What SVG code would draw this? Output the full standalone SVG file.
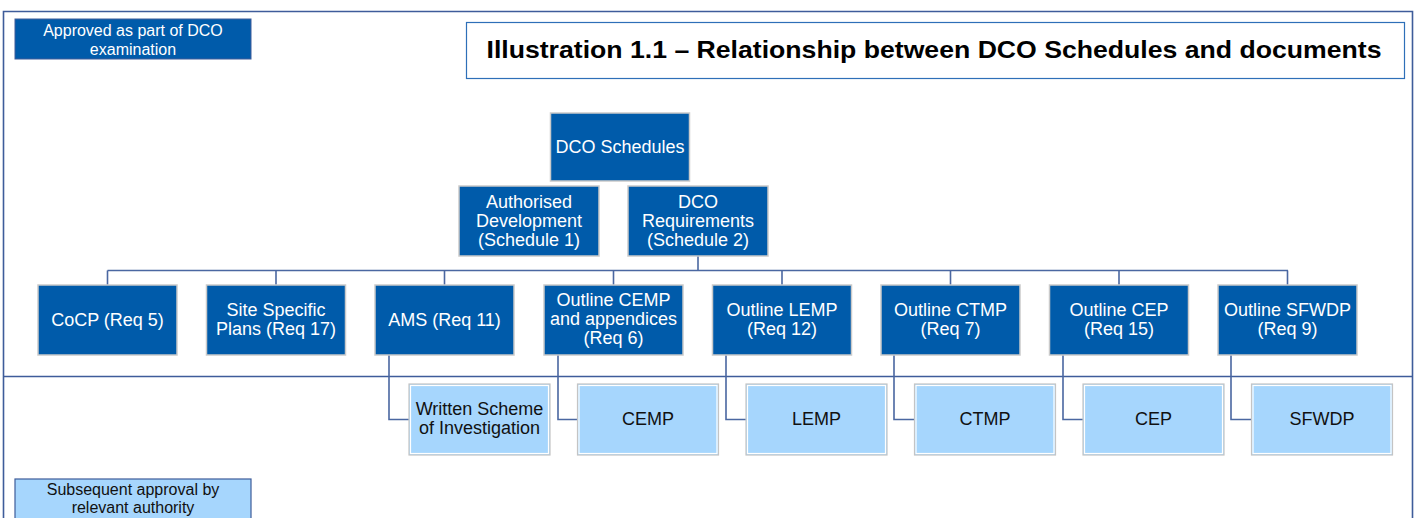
<svg xmlns="http://www.w3.org/2000/svg" width="1414" height="518" viewBox="0 0 1414 518">
<style>
  .dk{fill:#005BAA;stroke:#CACACA;stroke-width:1.5}
  .lt{fill:#A6D6FD;stroke:#C4C4C4;stroke-width:1.2}
  .ltin{fill:none;stroke:#FFFFFF;stroke-width:1.2}
  .tw{font-family:"Liberation Sans",Arial,sans-serif;font-size:18px;fill:#FFFFFF;text-anchor:middle}
  .tb{font-family:"Liberation Sans",Arial,sans-serif;font-size:18px;fill:#111111;text-anchor:middle}
  .lg{font-family:"Liberation Sans",Arial,sans-serif;font-size:16px;text-anchor:middle}
  .cn{fill:none;stroke:#4A67A1;stroke-width:1.6}
  .fr{fill:none;stroke:#3E5C9A;stroke-width:1.6}
</style>
<rect x="0" y="0" width="1414" height="518" fill="#FFFFFF"/>
<g id="frame">
  <polyline class="fr" points="3.5,518 3.5,11.5 1412.5,11.5 1412.5,518"/>
  <line class="fr" x1="3.5" y1="376.5" x2="1412.5" y2="376.5"/>
</g>
<g id="legend-approved">
  <rect x="15" y="19" width="236" height="40" fill="#005BAA" stroke="#3E5C9A" stroke-width="1"/>
  <text class="lg" x="133" y="36" fill="#FFFFFF">Approved as part of DCO</text>
  <text class="lg" x="133" y="55" fill="#FFFFFF">examination</text>
</g>
<g id="legend-subsequent">
  <rect x="15" y="479" width="236" height="45" fill="#A6D6FD" stroke="#3E5C9A" stroke-width="1.2"/>
  <text class="lg" x="133" y="495" fill="#111111">Subsequent approval by</text>
  <text class="lg" x="133" y="513" fill="#111111">relevant authority</text>
</g>
<g id="title">
  <rect x="466.5" y="22.5" width="938" height="56" fill="#FFFFFF" stroke="#2E6FB8" stroke-width="1.2"/>
  <text x="934" y="57.5" font-family="'Liberation Sans',Arial,sans-serif" font-size="24.5px" font-weight="bold" fill="#000000" text-anchor="middle" textLength="895" lengthAdjust="spacingAndGlyphs">Illustration 1.1 – Relationship between DCO Schedules and documents</text>
</g>
<g id="connectors">
  <line class="cn" x1="698" y1="256" x2="698" y2="270.5"/>
  <line class="cn" x1="107.5" y1="270.5" x2="1288" y2="270.5"/>
  <line class="cn" x1="107.5" y1="270.5" x2="107.5" y2="285"/>
  <line class="cn" x1="276" y1="270.5" x2="276" y2="285"/>
  <line class="cn" x1="444.5" y1="270.5" x2="444.5" y2="285"/>
  <line class="cn" x1="613.5" y1="270.5" x2="613.5" y2="285"/>
  <line class="cn" x1="782" y1="270.5" x2="782" y2="285"/>
  <line class="cn" x1="950.5" y1="270.5" x2="950.5" y2="285"/>
  <line class="cn" x1="1119" y1="270.5" x2="1119" y2="285"/>
  <line class="cn" x1="1287.5" y1="270.5" x2="1287.5" y2="285"/>
  <polyline class="cn" points="389,355 389,419.5 409,419.5"/>
  <polyline class="cn" points="558,355 558,419.5 578,419.5"/>
  <polyline class="cn" points="726,355 726,419.5 746,419.5"/>
  <polyline class="cn" points="894,355 894,419.5 915,419.5"/>
  <polyline class="cn" points="1063,355 1063,419.5 1083,419.5"/>
  <polyline class="cn" points="1231,355 1231,419.5 1252,419.5"/>
</g>
<g id="dco-schedules">
  <rect class="dk" x="550.5" y="113" width="139" height="68"/>
  <text class="tw" x="620" y="153">DCO Schedules</text>
</g>
<g id="authorised-development">
  <rect class="dk" x="459" y="186" width="140" height="70"/>
  <text class="tw" x="529" y="208">Authorised</text>
  <text class="tw" x="529" y="227">Development</text>
  <text class="tw" x="529" y="246">(Schedule 1)</text>
</g>
<g id="dco-requirements">
  <rect class="dk" x="628" y="186" width="140" height="70"/>
  <text class="tw" x="698" y="208">DCO</text>
  <text class="tw" x="698" y="227">Requirements</text>
  <text class="tw" x="698" y="246">(Schedule 2)</text>
</g>
<g id="cocp">
  <rect class="dk" x="38" y="285" width="139" height="70"/>
  <text class="tw" x="107.5" y="326">CoCP (Req 5)</text>
</g>
<g id="site-specific">
  <rect class="dk" x="206.5" y="285" width="139" height="70"/>
  <text class="tw" x="276" y="316">Site Specific</text>
  <text class="tw" x="276" y="335">Plans (Req 17)</text>
</g>
<g id="ams">
  <rect class="dk" x="375" y="285" width="139" height="70"/>
  <text class="tw" x="444.5" y="326">AMS (Req 11)</text>
</g>
<g id="outline-cemp">
  <rect class="dk" x="544" y="285" width="139" height="70"/>
  <text class="tw" x="613.5" y="306">Outline CEMP</text>
  <text class="tw" x="613.5" y="325">and appendices</text>
  <text class="tw" x="613.5" y="344">(Req 6)</text>
</g>
<g id="outline-lemp">
  <rect class="dk" x="712.5" y="285" width="139" height="70"/>
  <text class="tw" x="782" y="316">Outline LEMP</text>
  <text class="tw" x="782" y="335">(Req 12)</text>
</g>
<g id="outline-ctmp">
  <rect class="dk" x="881" y="285" width="139" height="70"/>
  <text class="tw" x="950.5" y="316">Outline CTMP</text>
  <text class="tw" x="950.5" y="335">(Req 7)</text>
</g>
<g id="outline-cep">
  <rect class="dk" x="1049.5" y="285" width="139" height="70"/>
  <text class="tw" x="1119" y="316">Outline CEP</text>
  <text class="tw" x="1119" y="335">(Req 15)</text>
</g>
<g id="outline-sfwdp">
  <rect class="dk" x="1218" y="285" width="139" height="70"/>
  <text class="tw" x="1287.5" y="316">Outline SFWDP</text>
  <text class="tw" x="1287.5" y="335">(Req 9)</text>
</g>
<g id="wsi">
  <rect class="lt" x="409" y="384" width="141" height="71"/>
  <rect class="ltin" x="410.5" y="385.5" width="138" height="68"/>
  <text class="tb" x="479.5" y="415">Written Scheme</text>
  <text class="tb" x="479.5" y="434">of Investigation</text>
</g>
<g id="cemp">
  <rect class="lt" x="577.5" y="384" width="141" height="71"/>
  <rect class="ltin" x="579" y="385.5" width="138" height="68"/>
  <text class="tb" x="648" y="425">CEMP</text>
</g>
<g id="lemp">
  <rect class="lt" x="746" y="384" width="141" height="71"/>
  <rect class="ltin" x="747.5" y="385.5" width="138" height="68"/>
  <text class="tb" x="816.5" y="425">LEMP</text>
</g>
<g id="ctmp">
  <rect class="lt" x="914.5" y="384" width="141" height="71"/>
  <rect class="ltin" x="916" y="385.5" width="138" height="68"/>
  <text class="tb" x="985" y="425">CTMP</text>
</g>
<g id="cep">
  <rect class="lt" x="1083" y="384" width="141" height="71"/>
  <rect class="ltin" x="1084.5" y="385.5" width="138" height="68"/>
  <text class="tb" x="1153.5" y="425">CEP</text>
</g>
<g id="sfwdp">
  <rect class="lt" x="1251.5" y="384" width="141" height="71"/>
  <rect class="ltin" x="1253" y="385.5" width="138" height="68"/>
  <text class="tb" x="1322" y="425">SFWDP</text>
</g>
</svg>
